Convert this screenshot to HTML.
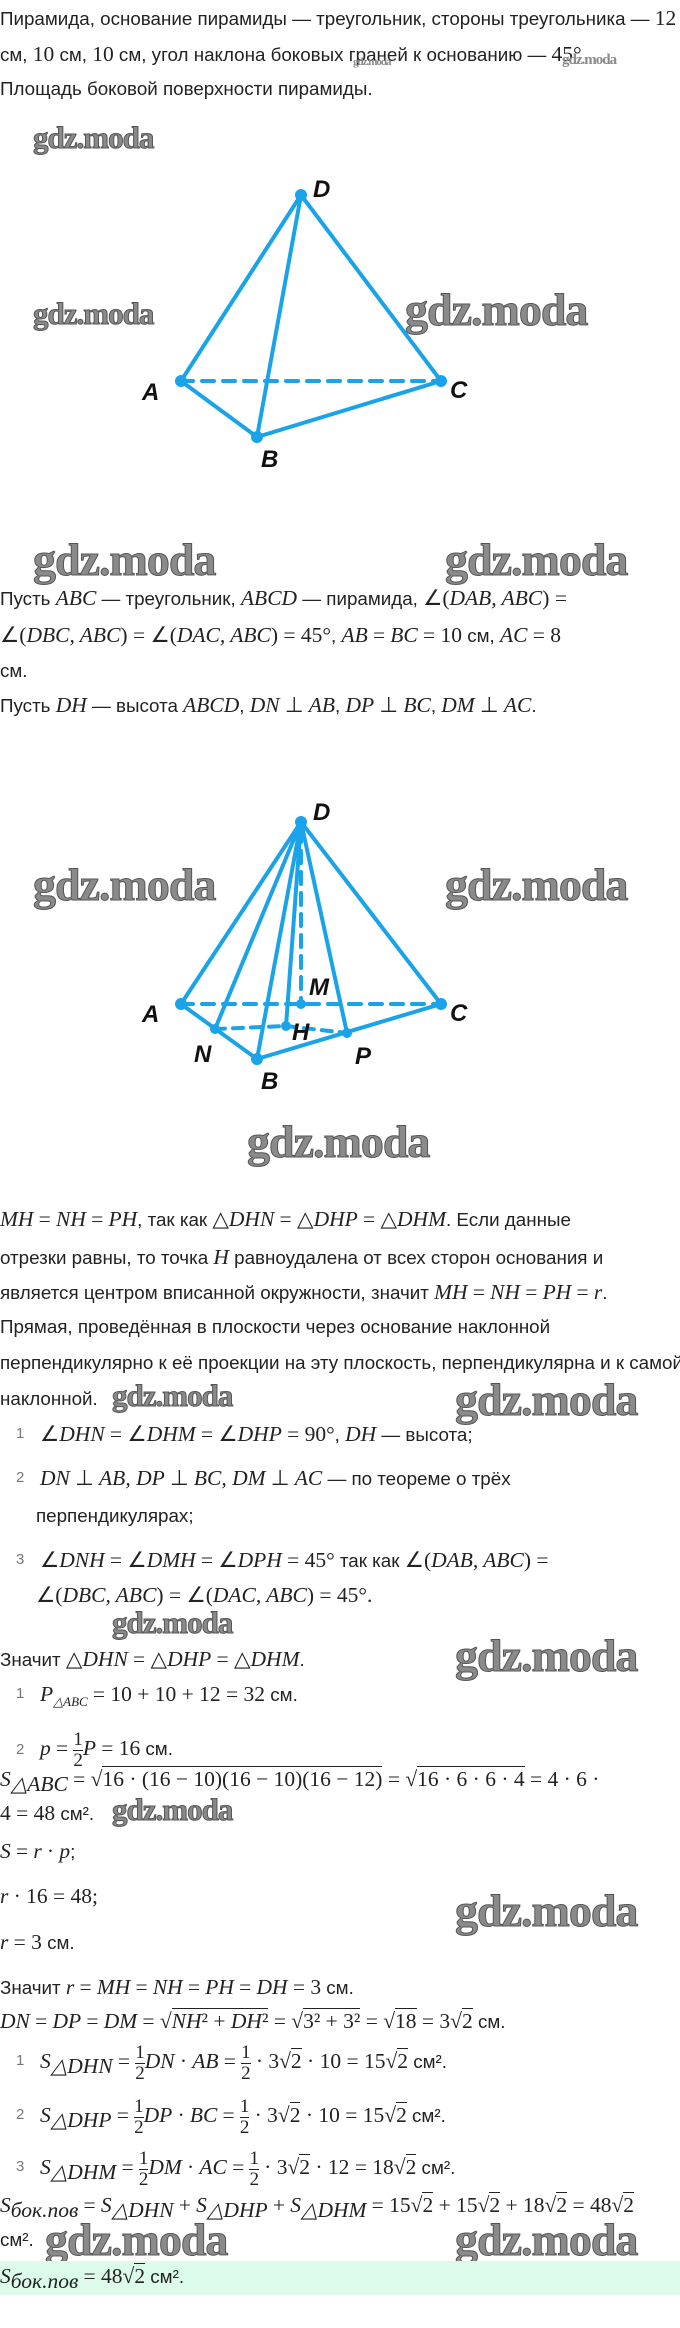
<!DOCTYPE html>
<html><head><meta charset="utf-8">
<style>
body{margin:0;background:#fff;}
#p{position:relative;width:680px;height:2328px;overflow:hidden;font-family:"Liberation Sans",sans-serif;font-size:18.8px;color:#222;}
.l{position:absolute;left:0;white-space:nowrap;line-height:24px;}
.m{font-family:"Liberation Serif",serif;font-style:italic;font-size:21.5px;}
.n{font-family:"Liberation Serif",serif;font-size:21.5px;}
.num{position:absolute;left:16px;color:#777;font-size:15px;line-height:24px;}
.wm{position:absolute;font-family:"Liberation Serif",serif;font-weight:bold;color:#8a8a8a;-webkit-text-stroke:1px #555;white-space:nowrap;letter-spacing:-1px;line-height:1;}
.big{font-size:46px;}
.sm{font-size:31px;}
sub{font-size:14px;}
.fr{display:inline-block;vertical-align:middle;text-align:center;font-family:"Liberation Serif",serif;font-size:19px;line-height:20px;}
.fr span{display:block;}
.fr span.t{border-bottom:1px solid #222;}
.sq{border-top:1px solid #222;}
</style></head><body><div id="p">

<div class="l" style="top:6px">Пирамида, основание пирамиды — треугольник, стороны треугольника — <span class="n">12</span></div>
<div class="l" style="top:42px">см, <span class="n">10</span> см, <span class="n">10</span> см, угол наклона боковых граней к основанию — <span class="n">45°</span></div>
<div class="wm" style="left:353px;top:57px;font-size:11px;-webkit-text-stroke:0">gdz.moda</div>
<div class="wm" style="left:562px;top:53px;font-size:15px;-webkit-text-stroke:0">gdz.moda</div>
<div class="l" style="top:77px">Площадь боковой поверхности пирамиды.</div>

<div class="wm sm" style="left:33px;top:122px">gdz.moda</div>
<div class="wm sm" style="left:33px;top:298px">gdz.moda</div>
<div class="wm big" style="left:405px;top:287px">gdz.moda</div>
<div class="wm big" style="left:33px;top:537px">gdz.moda</div>
<div class="wm big" style="left:445px;top:537px">gdz.moda</div>

<svg style="position:absolute;left:0;top:0" width="680" height="1200">
<g stroke="#1aa3e8" stroke-width="4" fill="none" stroke-linecap="round">
<line x1="301" y1="195" x2="181" y2="381"/>
<line x1="301" y1="195" x2="441" y2="381"/>
<line x1="301" y1="195" x2="257" y2="437"/>
<line x1="181" y1="381" x2="257" y2="437"/>
<line x1="257" y1="437" x2="441" y2="381"/>
<line x1="181" y1="381" x2="441" y2="381" stroke-dasharray="12,9"/>
</g>
<g fill="#1aa3e8"><circle cx="301" cy="195" r="6"/><circle cx="181" cy="381" r="6"/><circle cx="441" cy="381" r="6"/><circle cx="257" cy="437" r="6"/></g>
<g font-family="Liberation Sans,sans-serif" font-style="italic" font-weight="bold" font-size="24" fill="#111">
<text x="313" y="197">D</text><text x="142" y="400">A</text><text x="450" y="398">C</text><text x="261" y="467">B</text>
</g>

<g stroke="#1aa3e8" stroke-width="4" fill="none" stroke-linecap="round">
<line x1="301" y1="822" x2="181" y2="1004"/>
<line x1="301" y1="822" x2="441" y2="1004"/>
<line x1="301" y1="822" x2="257" y2="1059"/>
<line x1="301" y1="822" x2="215" y2="1029"/>
<line x1="301" y1="822" x2="286" y2="1026"/>
<line x1="301" y1="822" x2="347" y2="1033"/>
<line x1="181" y1="1004" x2="257" y2="1059"/>
<line x1="257" y1="1059" x2="441" y2="1004"/>
<line x1="181" y1="1004" x2="441" y2="1004" stroke-dasharray="12,9"/>
<line x1="301" y1="830" x2="301" y2="1004" stroke-dasharray="12,9"/>
<line x1="215" y1="1029" x2="286" y2="1026" stroke-dasharray="10,8"/>
<line x1="286" y1="1026" x2="347" y2="1033" stroke-dasharray="10,8"/>
</g>
<g fill="#1aa3e8"><circle cx="301" cy="822" r="6"/><circle cx="181" cy="1004" r="6"/><circle cx="441" cy="1004" r="6"/><circle cx="257" cy="1059" r="6"/><circle cx="215" cy="1029" r="5"/><circle cx="286" cy="1026" r="5"/><circle cx="301" cy="1004" r="5"/><circle cx="347" cy="1033" r="5"/></g>
<g font-family="Liberation Sans,sans-serif" font-style="italic" font-weight="bold" font-size="24" fill="#111">
<text x="313" y="820">D</text><text x="309" y="995">M</text><text x="142" y="1022">A</text><text x="450" y="1021">C</text><text x="292" y="1040">H</text><text x="194" y="1062">N</text><text x="355" y="1064">P</text><text x="261" y="1089">B</text>
</g>
</svg>

<div class="l" style="top:586px">Пусть <span class="m">ABC</span> — треугольник, <span class="m">ABCD</span> — пирамида, <span class="n">∠(</span><span class="m">DAB, ABC</span><span class="n">) =</span></div>
<div class="l" style="top:623px"><span class="n">∠(</span><span class="m">DBC, ABC</span><span class="n">) = ∠(</span><span class="m">DAC, ABC</span><span class="n">) = 45°</span>, <span class="m">AB</span> <span class="n">=</span> <span class="m">BC</span> <span class="n">= 10</span> см, <span class="m">AC</span> <span class="n">= 8</span></div>
<div class="l" style="top:659px">см.</div>
<div class="l" style="top:693px">Пусть <span class="m">DH</span> — высота <span class="m">ABCD</span>, <span class="m">DN</span> <span class="n">⊥</span> <span class="m">AB</span>, <span class="m">DP</span> <span class="n">⊥</span> <span class="m">BC</span>, <span class="m">DM</span> <span class="n">⊥</span> <span class="m">AC</span>.</div>

<div class="wm big" style="left:33px;top:862px">gdz.moda</div>
<div class="wm big" style="left:445px;top:862px">gdz.moda</div>
<div class="wm big" style="left:247px;top:1119px">gdz.moda</div>

<div class="l" style="top:1207px"><span class="m">MH</span> <span class="n">=</span> <span class="m">NH</span> <span class="n">=</span> <span class="m">PH</span>, так как <span class="n">△</span><span class="m">DHN</span> <span class="n">= △</span><span class="m">DHP</span> <span class="n">= △</span><span class="m">DHM</span>. Если данные</div>
<div class="l" style="top:1245px">отрезки равны, то точка <span class="m">H</span> равноудалена от всех сторон основания и</div>
<div class="l" style="top:1280px">является центром вписанной окружности, значит <span class="m">MH</span> <span class="n">=</span> <span class="m">NH</span> <span class="n">=</span> <span class="m">PH</span> <span class="n">=</span> <span class="m">r</span>.</div>
<div class="l" style="top:1315px">Прямая, проведённая в плоскости через основание наклонной</div>
<div class="l" style="top:1351px">перпендикулярно к её проекции на эту плоскость, перпендикулярна и к самой</div>
<div class="l" style="top:1387px">наклонной.</div>
<div class="wm sm" style="left:112px;top:1380px">gdz.moda</div>
<div class="wm big" style="left:455px;top:1377px">gdz.moda</div>

<div class="num" style="top:1422px">1</div>
<div class="l" style="left:40px;top:1422px"><span class="n">∠</span><span class="m">DHN</span> <span class="n">= ∠</span><span class="m">DHM</span> <span class="n">= ∠</span><span class="m">DHP</span> <span class="n">= 90°</span>, <span class="m">DH</span> — высота;</div>
<div class="num" style="top:1466px">2</div>
<div class="l" style="left:40px;top:1466px"><span class="m">DN</span> <span class="n">⊥</span> <span class="m">AB, DP</span> <span class="n">⊥</span> <span class="m">BC, DM</span> <span class="n">⊥</span> <span class="m">AC</span> — по теореме о трёх</div>
<div class="l" style="left:36px;top:1504px">перпендикулярах;</div>
<div class="num" style="top:1548px">3</div>
<div class="l" style="left:40px;top:1548px"><span class="n">∠</span><span class="m">DNH</span> <span class="n">= ∠</span><span class="m">DMH</span> <span class="n">= ∠</span><span class="m">DPH</span> <span class="n">= 45°</span> так как <span class="n">∠(</span><span class="m">DAB, ABC</span><span class="n">) =</span></div>
<div class="l" style="left:36px;top:1583px"><span class="n">∠(</span><span class="m">DBC, ABC</span><span class="n">) = ∠(</span><span class="m">DAC, ABC</span><span class="n">) = 45°.</span></div>
<div class="wm sm" style="left:112px;top:1607px">gdz.moda</div>
<div class="l" style="top:1647px">Значит <span class="n">△</span><span class="m">DHN</span> <span class="n">= △</span><span class="m">DHP</span> <span class="n">= △</span><span class="m">DHM</span>.</div>
<div class="wm big" style="left:455px;top:1633px">gdz.moda</div>

<div class="num" style="top:1682px">1</div>
<div class="l" style="left:40px;top:1682px"><span class="m">P</span><sub class="m" style="font-size:13px">△ABC</sub> <span class="n">= 10 + 10 + 12 = 32</span> см.</div>
<div class="num" style="top:1738px">2</div>
<div class="l" style="left:40px;top:1728px;line-height:40px"><span class="m">p</span> <span class="n">=</span> <span class="fr"><span class="t">1</span><span>2</span></span><span class="m">P</span> <span class="n">= 16</span> см.</div>
<div class="l" style="top:1767px"><span class="m">S</span><sub class="m">△ABC</sub> <span class="n">= √<span class="sq">16 · (16 − 10)(16 − 10)(16 − 12)</span> = √<span class="sq">16 · 6 · 6 · 4</span> = 4 · 6 ·</span></div>
<div class="l" style="top:1801px"><span class="n">4 = 48</span> см².</div>
<div class="wm sm" style="left:112px;top:1794px">gdz.moda</div>
<div class="l" style="top:1839px"><span class="m">S</span> <span class="n">=</span> <span class="m">r</span> <span class="n">·</span> <span class="m">p</span>;</div>
<div class="l" style="top:1884px"><span class="m">r</span> <span class="n">· 16 = 48;</span></div>
<div class="wm big" style="left:455px;top:1888px">gdz.moda</div>
<div class="l" style="top:1930px"><span class="m">r</span> <span class="n">= 3</span> см.</div>
<div class="l" style="top:1975px">Значит <span class="m">r</span> <span class="n">=</span> <span class="m">MH</span> <span class="n">=</span> <span class="m">NH</span> <span class="n">=</span> <span class="m">PH</span> <span class="n">=</span> <span class="m">DH</span> <span class="n">= 3</span> см.</div>
<div class="l" style="top:2009px"><span class="m">DN</span> <span class="n">=</span> <span class="m">DP</span> <span class="n">=</span> <span class="m">DM</span> <span class="n">= √<span class="sq"><i>NH</i>² + <i>DH</i>²</span> = √<span class="sq">3² + 3²</span> = √<span class="sq">18</span> = 3√<span class="sq">2</span></span> см.</div>

<div class="num" style="top:2049px">1</div>
<div class="l" style="left:40px;top:2041px;line-height:40px"><span class="m">S</span><sub class="m">△DHN</sub> <span class="n">=</span> <span class="fr"><span class="t">1</span><span>2</span></span><span class="m">DN</span> <span class="n">·</span> <span class="m">AB</span> <span class="n">=</span> <span class="fr"><span class="t">1</span><span>2</span></span> <span class="n">· 3√<span class="sq">2</span> · 10 = 15√<span class="sq">2</span></span> см².</div>
<div class="num" style="top:2103px">2</div>
<div class="l" style="left:40px;top:2095px;line-height:40px"><span class="m">S</span><sub class="m">△DHP</sub> <span class="n">=</span> <span class="fr"><span class="t">1</span><span>2</span></span><span class="m">DP</span> <span class="n">·</span> <span class="m">BC</span> <span class="n">=</span> <span class="fr"><span class="t">1</span><span>2</span></span> <span class="n">· 3√<span class="sq">2</span> · 10 = 15√<span class="sq">2</span></span> см².</div>
<div class="num" style="top:2155px">3</div>
<div class="l" style="left:40px;top:2147px;line-height:40px"><span class="m">S</span><sub class="m">△DHM</sub> <span class="n">=</span> <span class="fr"><span class="t">1</span><span>2</span></span><span class="m">DM</span> <span class="n">·</span> <span class="m">AC</span> <span class="n">=</span> <span class="fr"><span class="t">1</span><span>2</span></span> <span class="n">· 3√<span class="sq">2</span> · 12 = 18√<span class="sq">2</span></span> см².</div>
<div class="l" style="top:2193px"><span class="m">S</span><sub class="m">бок.пов</sub> <span class="n">=</span> <span class="m">S</span><sub class="m">△DHN</sub> <span class="n">+</span> <span class="m">S</span><sub class="m">△DHP</sub> <span class="n">+</span> <span class="m">S</span><sub class="m">△DHM</sub> <span class="n">= 15√<span class="sq">2</span> + 15√<span class="sq">2</span> + 18√<span class="sq">2</span> = 48√<span class="sq">2</span></span></div>
<div class="l" style="top:2228px">см².</div>
<div class="wm big" style="left:45px;top:2217px">gdz.moda</div>
<div class="wm big" style="left:455px;top:2217px">gdz.moda</div>

<div style="position:absolute;left:0;top:2261px;width:680px;height:34px;background:#dcfbeb"></div>
<div class="l" style="top:2264px"><span class="m">S</span><sub class="m">бок.пов</sub> <span class="n">= 48√<span class="sq">2</span></span> см².</div>

</div></body></html>
